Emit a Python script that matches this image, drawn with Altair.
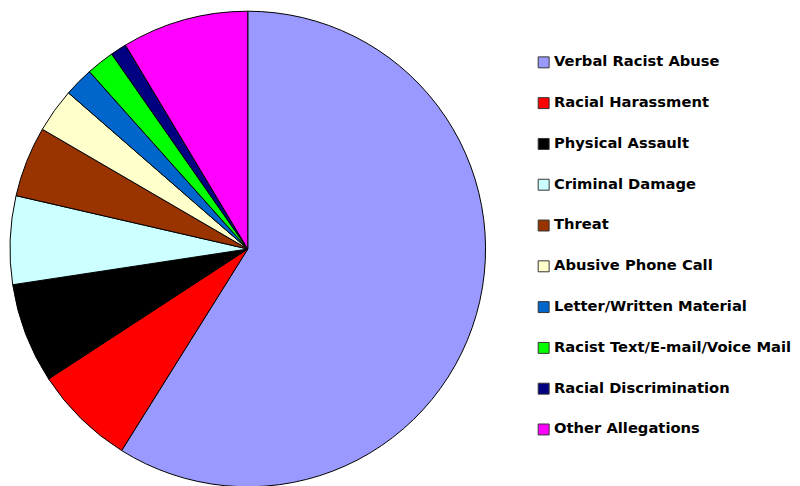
import altair as alt
import pandas as pd

categories = [
    "Verbal Racist Abuse",
    "Racial Harassment",
    "Physical Assault",
    "Criminal Damage",
    "Threat",
    "Abusive Phone Call",
    "Letter/Written Material",
    "Racist Text/E-mail/Voice Mail",
    "Racial Discrimination",
    "Other Allegations",
]
values = [58.9, 6.9, 6.8, 6.0, 4.8, 3.0, 2.0, 1.9, 1.1, 8.6]
colors = ["#9999FF", "#FF0000", "#000000", "#CCFFFF", "#993300",
          "#FFFFCC", "#0066CC", "#00FF00", "#000080", "#FF00FF"]

df = pd.DataFrame({"category": categories, "value": values,
                   "order": list(range(len(categories)))})

chart = alt.Chart(df).mark_arc(
    radius=239, stroke="black", strokeWidth=1
).encode(
    theta=alt.Theta("value:Q", stack=True),
    order=alt.Order("order:Q"),
    color=alt.Color(
        "category:N",
        sort=categories,
        scale=alt.Scale(domain=categories, range=colors),
        legend=alt.Legend(
            title=None,
            orient="none",
            legendX=526,
            legendY=46,
            symbolType="square",
            symbolSize=121,
            symbolStrokeColor="#333333",
            symbolStrokeWidth=1,
            labelFont="DejaVu Sans",
            labelFontWeight="bold",
            labelFontSize=14.8,
            labelColor="black",
            labelLimit=400,
            labelOffset=3,
            rowPadding=25,
        ),
    ),
).properties(
    width=472, height=482, padding=0
).configure_view(stroke=None)

chart.save("out.html", embed_options={"renderer": "svg", "actions": False})
